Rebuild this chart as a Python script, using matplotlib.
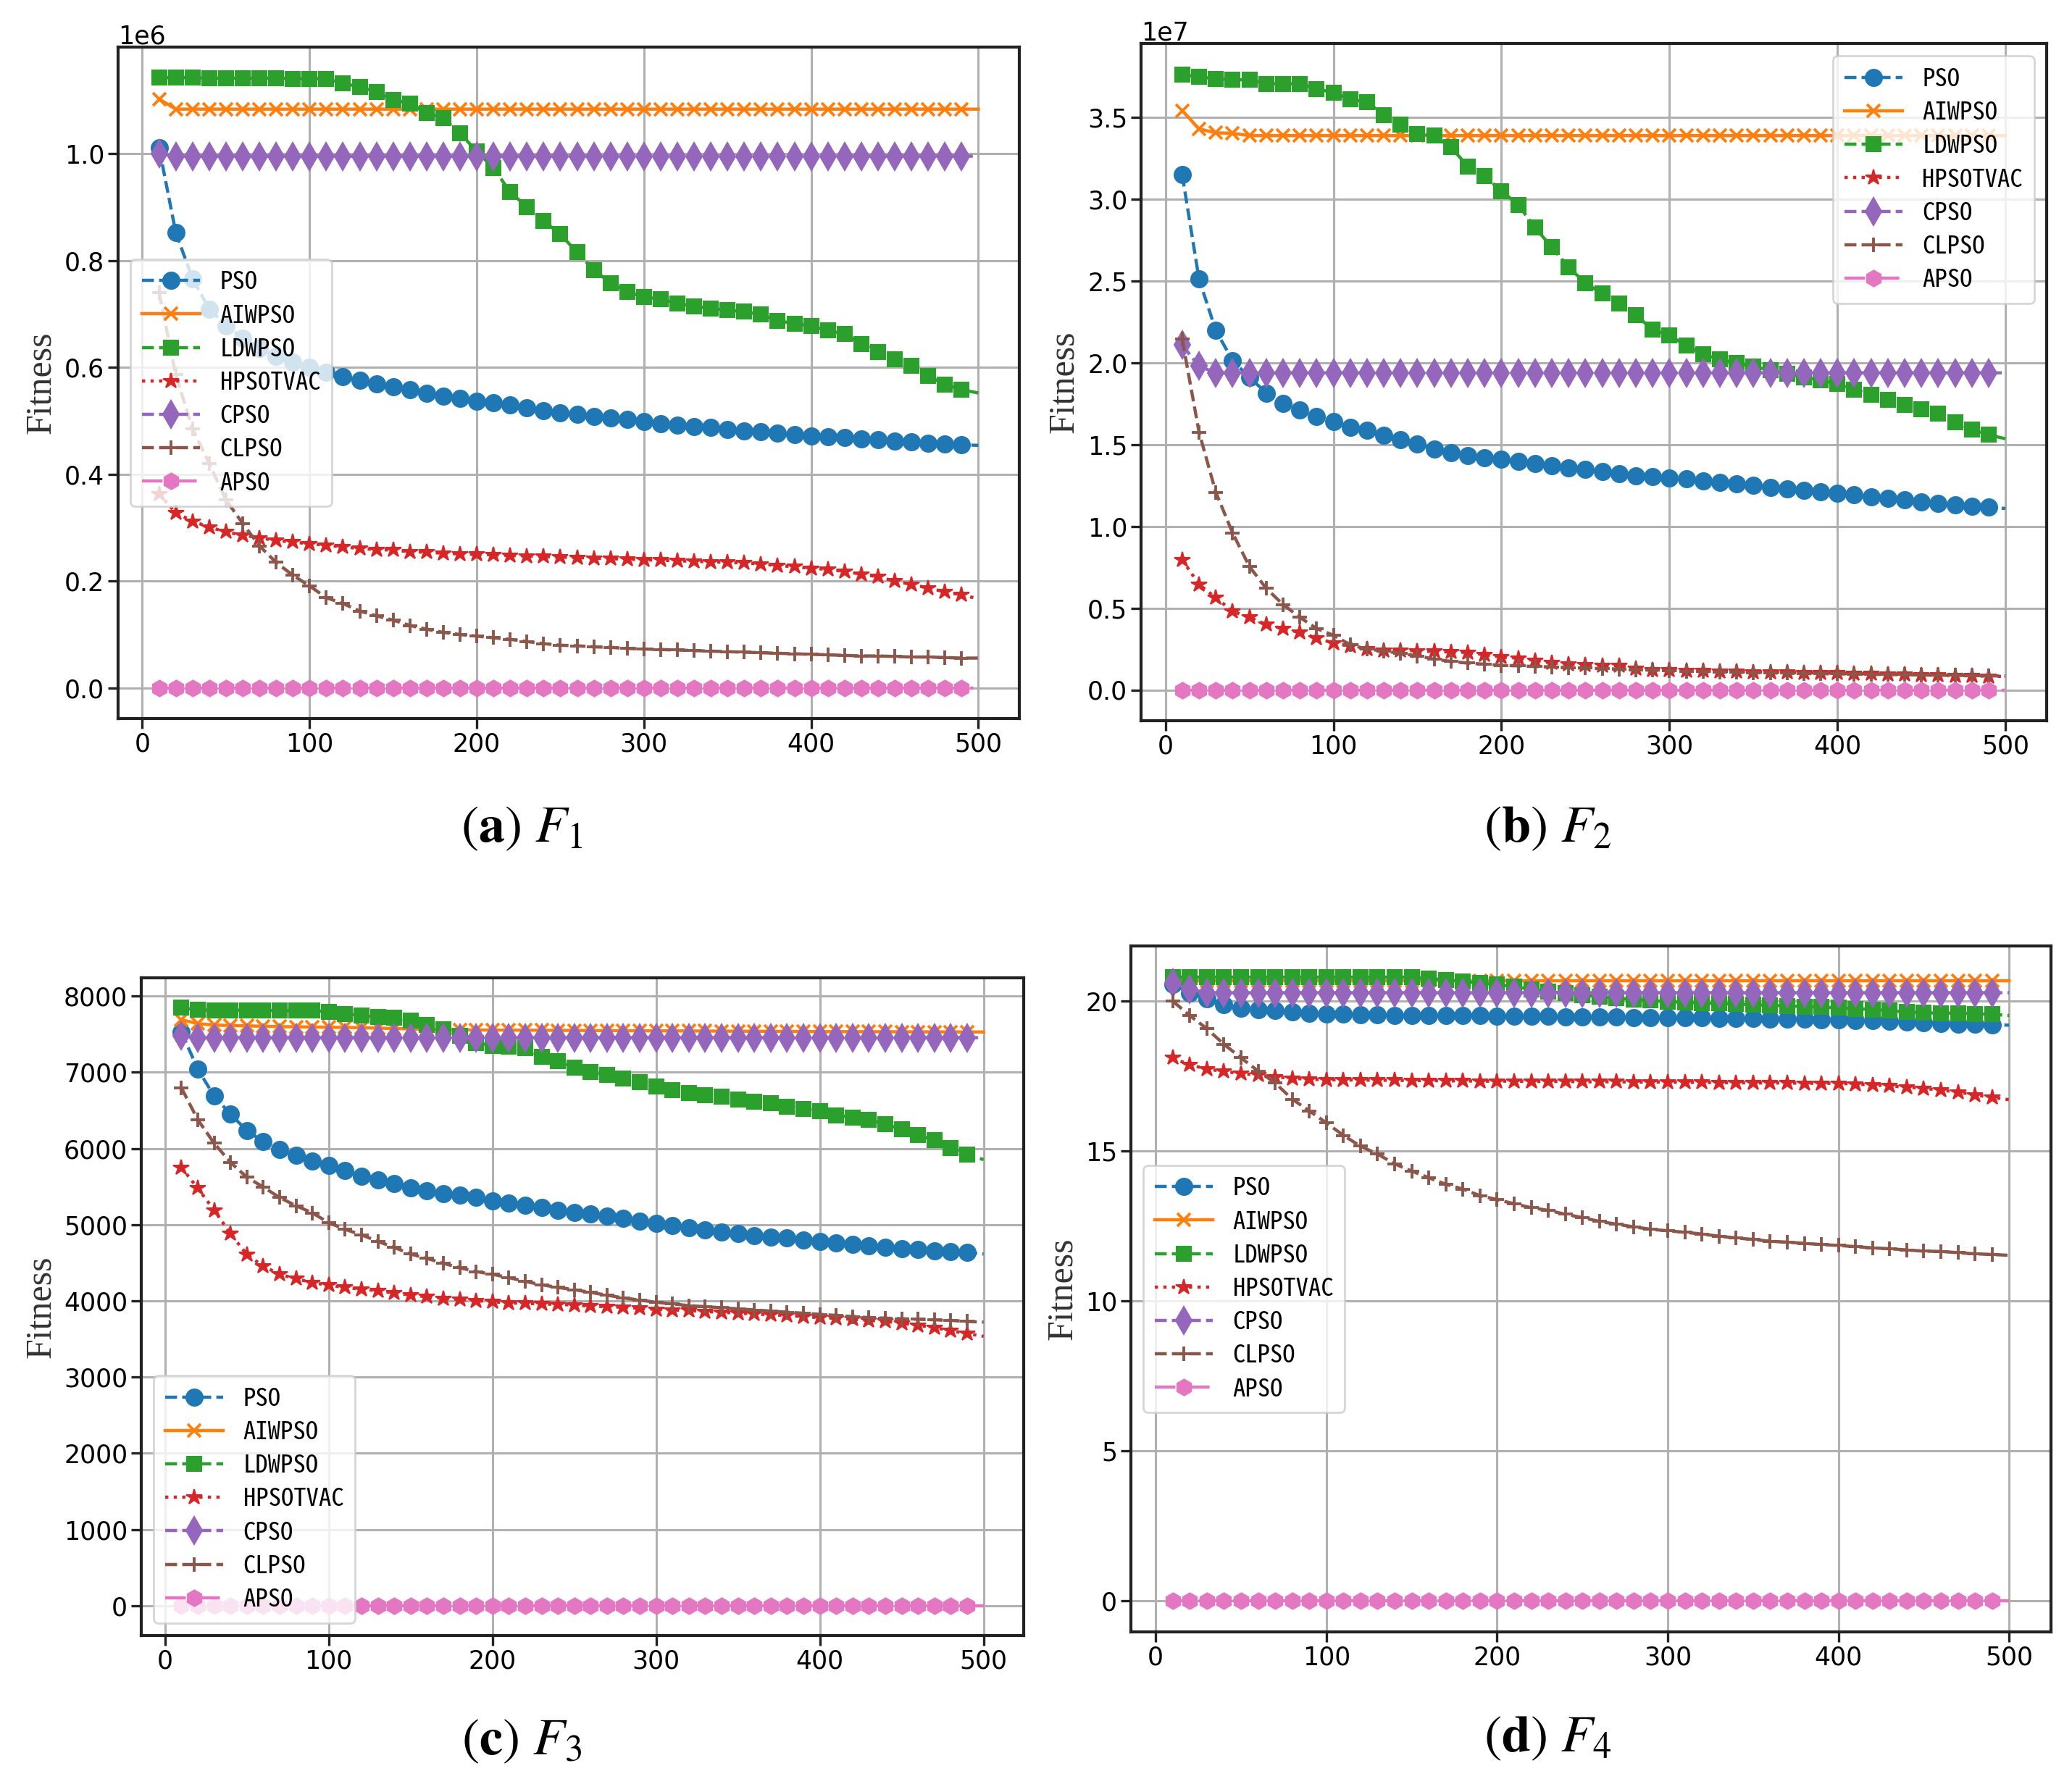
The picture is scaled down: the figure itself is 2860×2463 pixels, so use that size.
import numpy as np
import matplotlib
matplotlib.use("Agg")
import matplotlib.pyplot as plt

plt.rcParams['mathtext.fontset'] = 'stix'

# ---------------- data ----------------
iterations = [10, 20, 30, 40, 50, 60, 70, 80, 90, 100,
              110, 120, 130, 140, 150, 160, 170, 180, 190, 200,
              210, 220, 230, 240, 250, 260, 270, 280, 290, 300,
              310, 320, 330, 340, 350, 360, 370, 380, 390, 400,
              410, 420, 430, 440, 450, 460, 470, 480, 490, 500]

algorithms = ["PSO", "AIWPSO", "LDWPSO", "HPSOTVAC", "CPSO", "CLPSO", "APSO"]

# F1 (x 1e6)
f1_pso = [1.011, 0.852, 0.766, 0.709, 0.678, 0.655, 0.636, 0.620, 0.610, 0.600,
          0.591, 0.583, 0.576, 0.569, 0.563, 0.558, 0.552, 0.546, 0.542, 0.537,
          0.534, 0.529, 0.524, 0.519, 0.515, 0.512, 0.508, 0.505, 0.503, 0.499,
          0.495, 0.492, 0.489, 0.487, 0.484, 0.481, 0.479, 0.477, 0.474, 0.472,
          0.470, 0.469, 0.466, 0.464, 0.462, 0.460, 0.458, 0.457, 0.455, 0.454]
f1_aiwpso = [1.102, 1.083, 1.083, 1.083, 1.083, 1.083, 1.083, 1.083, 1.083, 1.083,
             1.083, 1.083, 1.083, 1.083, 1.083, 1.083, 1.083, 1.083, 1.083, 1.083,
             1.083, 1.083, 1.083, 1.083, 1.083, 1.083, 1.083, 1.083, 1.083, 1.083,
             1.083, 1.083, 1.083, 1.083, 1.083, 1.083, 1.083, 1.083, 1.083, 1.083,
             1.083, 1.083, 1.083, 1.083, 1.083, 1.083, 1.083, 1.083, 1.083, 1.083]
f1_ldwpso = [1.142, 1.142, 1.142, 1.141, 1.141, 1.141, 1.141, 1.141, 1.140, 1.140,
             1.140, 1.131, 1.125, 1.115, 1.100, 1.094, 1.076, 1.066, 1.038, 1.004,
             0.973, 0.928, 0.900, 0.874, 0.849, 0.815, 0.782, 0.758, 0.741, 0.732,
             0.727, 0.720, 0.714, 0.710, 0.707, 0.704, 0.699, 0.687, 0.682, 0.677,
             0.669, 0.662, 0.643, 0.629, 0.615, 0.603, 0.584, 0.568, 0.558, 0.552]
f1_hpsotvac = [0.363, 0.328, 0.312, 0.301, 0.292, 0.286, 0.281, 0.276, 0.273, 0.270,
               0.267, 0.264, 0.261, 0.259, 0.258, 0.255, 0.254, 0.252, 0.251, 0.250,
               0.249, 0.248, 0.247, 0.246, 0.245, 0.244, 0.243, 0.242, 0.241, 0.240,
               0.239, 0.238, 0.237, 0.236, 0.235, 0.234, 0.232, 0.229, 0.227, 0.224,
               0.222, 0.218, 0.213, 0.208, 0.200, 0.194, 0.187, 0.180, 0.174, 0.167]
f1_cpso = [1.000, 0.995, 0.995, 0.995, 0.995, 0.995, 0.995, 0.995, 0.995, 0.995,
           0.995, 0.995, 0.995, 0.995, 0.995, 0.995, 0.995, 0.995, 0.995, 0.995,
           0.995, 0.995, 0.995, 0.995, 0.995, 0.995, 0.995, 0.995, 0.995, 0.995,
           0.995, 0.995, 0.995, 0.995, 0.995, 0.995, 0.995, 0.995, 0.995, 0.995,
           0.995, 0.995, 0.995, 0.995, 0.995, 0.995, 0.995, 0.995, 0.995, 0.995]
f1_clpso = [0.740, 0.586, 0.485, 0.420, 0.352, 0.308, 0.266, 0.235, 0.211, 0.191,
            0.169, 0.158, 0.144, 0.135, 0.127, 0.117, 0.110, 0.104, 0.100, 0.097,
            0.094, 0.091, 0.087, 0.083, 0.080, 0.079, 0.077, 0.076, 0.074, 0.073,
            0.072, 0.071, 0.070, 0.069, 0.068, 0.067, 0.066, 0.065, 0.064, 0.063,
            0.062, 0.061, 0.060, 0.060, 0.059, 0.058, 0.058, 0.057, 0.056, 0.056]
f1_apso = [0.0, 0.0, 0.0, 0.0, 0.0, 0.0, 0.0, 0.0, 0.0, 0.0,
           0.0, 0.0, 0.0, 0.0, 0.0, 0.0, 0.0, 0.0, 0.0, 0.0,
           0.0, 0.0, 0.0, 0.0, 0.0, 0.0, 0.0, 0.0, 0.0, 0.0,
           0.0, 0.0, 0.0, 0.0, 0.0, 0.0, 0.0, 0.0, 0.0, 0.0,
           0.0, 0.0, 0.0, 0.0, 0.0, 0.0, 0.0, 0.0, 0.0, 0.0]

# F2 (x 1e7)
f2_pso = [3.149, 2.511, 2.197, 2.013, 1.911, 1.815, 1.750, 1.713, 1.672, 1.641,
          1.604, 1.586, 1.556, 1.528, 1.505, 1.474, 1.450, 1.433, 1.419, 1.409,
          1.395, 1.385, 1.372, 1.358, 1.348, 1.334, 1.320, 1.310, 1.303, 1.296,
          1.290, 1.279, 1.269, 1.259, 1.249, 1.238, 1.228, 1.221, 1.211, 1.201,
          1.191, 1.180, 1.170, 1.160, 1.150, 1.140, 1.129, 1.122, 1.116, 1.109]
f2_aiwpso = [3.541, 3.429, 3.405, 3.402, 3.388, 3.388, 3.388, 3.388, 3.388, 3.388,
             3.388, 3.388, 3.388, 3.388, 3.388, 3.388, 3.388, 3.388, 3.388, 3.388,
             3.388, 3.388, 3.388, 3.388, 3.388, 3.388, 3.388, 3.388, 3.388, 3.388,
             3.388, 3.388, 3.388, 3.388, 3.388, 3.388, 3.388, 3.388, 3.388, 3.388,
             3.388, 3.388, 3.388, 3.388, 3.388, 3.388, 3.388, 3.388, 3.388, 3.388]
f2_ldwpso = [3.763, 3.746, 3.736, 3.729, 3.729, 3.705, 3.705, 3.705, 3.674, 3.651,
             3.610, 3.593, 3.514, 3.456, 3.398, 3.388, 3.316, 3.200, 3.139, 3.050,
             2.965, 2.825, 2.706, 2.583, 2.487, 2.422, 2.364, 2.289, 2.204, 2.166,
             2.105, 2.050, 2.020, 1.999, 1.975, 1.955, 1.931, 1.911, 1.894, 1.870,
             1.836, 1.805, 1.771, 1.743, 1.716, 1.689, 1.638, 1.593, 1.559, 1.535]
f2_hpsotvac = [0.795, 0.645, 0.563, 0.481, 0.444, 0.399, 0.375, 0.351, 0.317, 0.287,
               0.266, 0.249, 0.242, 0.242, 0.239, 0.235, 0.232, 0.229, 0.215, 0.201,
               0.194, 0.181, 0.164, 0.157, 0.154, 0.150, 0.147, 0.130, 0.123, 0.120,
               0.118, 0.116, 0.114, 0.112, 0.110, 0.108, 0.107, 0.105, 0.104, 0.102,
               0.100, 0.098, 0.096, 0.094, 0.092, 0.090, 0.088, 0.086, 0.084, 0.082]
f2_cpso = [2.108, 1.979, 1.938, 1.938, 1.938, 1.938, 1.938, 1.938, 1.938, 1.938,
           1.938, 1.938, 1.938, 1.938, 1.938, 1.938, 1.938, 1.938, 1.938, 1.938,
           1.938, 1.938, 1.938, 1.938, 1.938, 1.938, 1.938, 1.938, 1.938, 1.938,
           1.938, 1.938, 1.938, 1.938, 1.938, 1.938, 1.938, 1.938, 1.938, 1.938,
           1.938, 1.938, 1.938, 1.938, 1.938, 1.938, 1.938, 1.938, 1.938, 1.938]
f2_clpso = [2.143, 1.576, 1.208, 0.959, 0.754, 0.621, 0.522, 0.444, 0.375, 0.334,
            0.276, 0.249, 0.239, 0.222, 0.208, 0.188, 0.174, 0.164, 0.157, 0.150,
            0.147, 0.143, 0.140, 0.136, 0.133, 0.130, 0.127, 0.123, 0.120, 0.116,
            0.114, 0.112, 0.110, 0.108, 0.106, 0.104, 0.102, 0.100, 0.099, 0.098,
            0.097, 0.095, 0.094, 0.093, 0.091, 0.090, 0.089, 0.088, 0.086, 0.085]
f2_apso = [0.0, 0.0, 0.0, 0.0, 0.0, 0.0, 0.0, 0.0, 0.0, 0.0,
           0.0, 0.0, 0.0, 0.0, 0.0, 0.0, 0.0, 0.0, 0.0, 0.0,
           0.0, 0.0, 0.0, 0.0, 0.0, 0.0, 0.0, 0.0, 0.0, 0.0,
           0.0, 0.0, 0.0, 0.0, 0.0, 0.0, 0.0, 0.0, 0.0, 0.0,
           0.0, 0.0, 0.0, 0.0, 0.0, 0.0, 0.0, 0.0, 0.0, 0.0]

# F3
f3_pso = [7531, 7042, 6689, 6451, 6235, 6091, 5983, 5911, 5839, 5782,
          5710, 5638, 5587, 5544, 5486, 5443, 5407, 5386, 5357, 5314,
          5285, 5256, 5227, 5191, 5162, 5141, 5112, 5083, 5047, 5018,
          4990, 4961, 4932, 4903, 4882, 4860, 4838, 4824, 4802, 4781,
          4759, 4738, 4723, 4702, 4687, 4673, 4658, 4644, 4637, 4615]
f3_aiwpso = [7690, 7640, 7620, 7615, 7610, 7605, 7600, 7598, 7595, 7592,
             7590, 7585, 7580, 7575, 7570, 7565, 7560, 7558, 7556, 7555,
             7554, 7553, 7552, 7551, 7550, 7549, 7548, 7547, 7546, 7545,
             7544, 7543, 7542, 7541, 7540, 7539, 7538, 7537, 7536, 7535,
             7534, 7534, 7533, 7533, 7532, 7532, 7531, 7531, 7530, 7530]
f3_ldwpso = [7848, 7819, 7817, 7815, 7815, 7813, 7812, 7811, 7810, 7798,
             7769, 7747, 7726, 7718, 7675, 7618, 7567, 7481, 7387, 7351,
             7337, 7315, 7207, 7150, 7063, 7006, 6970, 6919, 6869, 6811,
             6768, 6725, 6703, 6682, 6646, 6610, 6595, 6552, 6523, 6487,
             6437, 6408, 6379, 6322, 6250, 6178, 6106, 6005, 5918, 5854]
f3_hpsotvac = [5753, 5479, 5191, 4882, 4608, 4457, 4349, 4291, 4241, 4205,
               4176, 4154, 4133, 4104, 4075, 4054, 4032, 4018, 4003, 3989,
               3974, 3967, 3960, 3953, 3946, 3931, 3924, 3917, 3902, 3888,
               3881, 3874, 3859, 3852, 3838, 3830, 3816, 3809, 3794, 3780,
               3773, 3758, 3744, 3730, 3708, 3679, 3650, 3607, 3571, 3535]
f3_cpso = [7480, 7455, 7455, 7455, 7455, 7455, 7455, 7455, 7455, 7455,
           7455, 7455, 7455, 7455, 7455, 7455, 7455, 7455, 7455, 7455,
           7455, 7455, 7455, 7455, 7455, 7455, 7455, 7455, 7455, 7455,
           7455, 7455, 7455, 7455, 7455, 7455, 7455, 7455, 7455, 7455,
           7455, 7455, 7455, 7455, 7455, 7455, 7455, 7455, 7455, 7455]
f3_clpso = [6797, 6379, 6070, 5818, 5623, 5494, 5357, 5249, 5155, 5026,
            4939, 4867, 4781, 4702, 4615, 4558, 4493, 4435, 4385, 4349,
            4306, 4255, 4212, 4176, 4147, 4111, 4075, 4039, 4010, 3982,
            3960, 3938, 3924, 3910, 3895, 3881, 3866, 3852, 3838, 3823,
            3809, 3794, 3780, 3773, 3766, 3758, 3751, 3744, 3730, 3722]
f3_apso = [0, 0, 0, 0, 0, 0, 0, 0, 0, 0,
           0, 0, 0, 0, 0, 0, 0, 0, 0, 0,
           0, 0, 0, 0, 0, 0, 0, 0, 0, 0,
           0, 0, 0, 0, 0, 0, 0, 0, 0, 0,
           0, 0, 0, 0, 0, 0, 0, 0, 0, 0]

# F4
f4_pso = [20.55, 20.28, 20.08, 19.88, 19.76, 19.72, 19.68, 19.64, 19.60, 19.57,
          19.56, 19.55, 19.54, 19.53, 19.53, 19.52, 19.52, 19.51, 19.51, 19.50,
          19.50, 19.49, 19.49, 19.48, 19.48, 19.47, 19.47, 19.46, 19.46, 19.45,
          19.44, 19.44, 19.43, 19.43, 19.42, 19.41, 19.40, 19.39, 19.38, 19.37,
          19.36, 19.34, 19.32, 19.30, 19.29, 19.26, 19.24, 19.22, 19.20, 19.20]
f4_aiwpso = [20.75, 20.68, 20.68, 20.68, 20.68, 20.68, 20.68, 20.68, 20.68, 20.68,
             20.68, 20.68, 20.68, 20.68, 20.68, 20.68, 20.68, 20.68, 20.68, 20.68,
             20.68, 20.68, 20.68, 20.68, 20.68, 20.68, 20.68, 20.68, 20.68, 20.68,
             20.68, 20.68, 20.68, 20.68, 20.68, 20.68, 20.68, 20.68, 20.68, 20.68,
             20.68, 20.68, 20.68, 20.68, 20.68, 20.68, 20.68, 20.68, 20.68, 20.68]
f4_ldwpso = [20.80, 20.80, 20.80, 20.80, 20.80, 20.80, 20.80, 20.80, 20.80, 20.80,
             20.80, 20.80, 20.80, 20.80, 20.80, 20.76, 20.71, 20.66, 20.60, 20.55,
             20.48, 20.40, 20.32, 20.26, 20.20, 20.14, 20.10, 20.06, 20.02, 19.98,
             19.96, 19.94, 19.92, 19.90, 19.88, 19.86, 19.84, 19.82, 19.80, 19.78,
             19.75, 19.72, 19.68, 19.64, 19.61, 19.60, 19.60, 19.58, 19.56, 19.52]
f4_hpsotvac = [18.11, 17.87, 17.74, 17.65, 17.59, 17.53, 17.47, 17.43, 17.39, 17.38,
               17.37, 17.37, 17.36, 17.36, 17.35, 17.35, 17.34, 17.34, 17.33, 17.33,
               17.33, 17.32, 17.32, 17.32, 17.31, 17.31, 17.31, 17.30, 17.30, 17.30,
               17.29, 17.29, 17.28, 17.28, 17.27, 17.27, 17.27, 17.26, 17.26, 17.26,
               17.23, 17.21, 17.17, 17.13, 17.09, 17.03, 16.97, 16.87, 16.79, 16.71]
f4_cpso = [20.60, 20.40, 20.28, 20.28, 20.28, 20.28, 20.28, 20.28, 20.28, 20.28,
           20.28, 20.28, 20.28, 20.28, 20.28, 20.28, 20.28, 20.28, 20.28, 20.28,
           20.28, 20.28, 20.28, 20.28, 20.28, 20.28, 20.28, 20.28, 20.28, 20.28,
           20.28, 20.28, 20.28, 20.28, 20.28, 20.28, 20.28, 20.28, 20.28, 20.28,
           20.28, 20.28, 20.28, 20.28, 20.28, 20.28, 20.28, 20.28, 20.28, 20.28]
f4_clpso = [20.00, 19.52, 19.08, 18.56, 18.11, 17.67, 17.27, 16.73, 16.34, 15.94,
            15.52, 15.16, 14.90, 14.57, 14.33, 14.11, 13.89, 13.73, 13.51, 13.38,
            13.24, 13.11, 13.02, 12.89, 12.78, 12.65, 12.56, 12.47, 12.39, 12.34,
            12.29, 12.23, 12.16, 12.10, 12.05, 11.99, 11.96, 11.92, 11.88, 11.85,
            11.81, 11.77, 11.74, 11.70, 11.66, 11.65, 11.61, 11.57, 11.55, 11.52]
f4_apso = [0.0, 0.0, 0.0, 0.0, 0.0, 0.0, 0.0, 0.0, 0.0, 0.0,
           0.0, 0.0, 0.0, 0.0, 0.0, 0.0, 0.0, 0.0, 0.0, 0.0,
           0.0, 0.0, 0.0, 0.0, 0.0, 0.0, 0.0, 0.0, 0.0, 0.0,
           0.0, 0.0, 0.0, 0.0, 0.0, 0.0, 0.0, 0.0, 0.0, 0.0,
           0.0, 0.0, 0.0, 0.0, 0.0, 0.0, 0.0, 0.0, 0.0, 0.0]

y_scales = [1e6, 1e7, 1, 1]
captions = ["a", "b", "c", "d"]
func_names = ["F_1", "F_2", "F_3", "F_4"]
legend_locs = ["center left", "upper right", "lower left", "center left"]

panels = [
    [f1_pso, f1_aiwpso, f1_ldwpso, f1_hpsotvac, f1_cpso, f1_clpso, f1_apso],
    [f2_pso, f2_aiwpso, f2_ldwpso, f2_hpsotvac, f2_cpso, f2_clpso, f2_apso],
    [f3_pso, f3_aiwpso, f3_ldwpso, f3_hpsotvac, f3_cpso, f3_clpso, f3_apso],
    [f4_pso, f4_aiwpso, f4_ldwpso, f4_hpsotvac, f4_cpso, f4_clpso, f4_apso],
]

# ---------------- style ----------------
colors = ["#1f77b4", "#ff7f0e", "#2ca02c", "#d62728", "#9467bd", "#8c564b", "#e377c2"]
markers = ["o", "x", "s", "*", "d", "+", "h"]
msizes = [16.5, 13, 15, 16, 19, 14, 16]
mews = [1.5, 2.8, 1.5, 1.5, 1.5, 2.8, 1.5]
linestyles = ["--", "-", "--", ":", "--", "--", "-."]

W, H = 2860, 2463
DPI = 100
fig = plt.figure(figsize=(W / DPI, H / DPI), dpi=DPI)

axes_px = [(163, 65, 1407, 992), (1575, 60, 2825, 995),
           (195, 1350, 1413, 2258), (1561, 1306, 2831, 2253)]
caption_px = [(720, 1146), (2136, 1146), (720, 2406), (2136, 2402)]

TICK_FS = 25
LEG_FS = 25
leg_family = ["Noto Sans Mono CJK SC", "Noto Sans CJK SC", "DejaVu Sans"]

for k in range(4):
    l, t, r, b = axes_px[k]
    ax = fig.add_axes([l / W, 1 - b / H, (r - l) / W, (b - t) / H])
    x = np.array(iterations)
    for i, name in enumerate(algorithms):
        y = np.array(panels[k][i]) * y_scales[k]
        ax.plot(x, y, color=colors[i], marker=markers[i], linestyle=linestyles[i],
                linewidth=3.2, markersize=msizes[i], markeredgewidth=mews[i],
                markevery=slice(0, len(x) - 1), label=name)
    ax.grid(True, color="#b0b0b0", linewidth=2.2)
    ax.set_axisbelow(True)
    for sp in ax.spines.values():
        sp.set_linewidth(3.0)
        sp.set_color("#222222")
    ax.tick_params(labelsize=TICK_FS, length=10, width=2.4, color="#222222")
    ax.yaxis.get_offset_text().set_fontsize(TICK_FS)
    ax.set_xticks([0, 100, 200, 300, 400, 500])
    ax.set_ylabel("Fitness", fontsize=36, family="Liberation Serif", color="#333333",
                  labelpad=6)
    leg = ax.legend(loc=legend_locs[k],
                    prop={"family": leg_family, "size": LEG_FS},
                    handlelength=2.3, borderpad=0.45, labelspacing=0.38,
                    framealpha=0.8, edgecolor="#cccccc")
    leg.get_frame().set_linewidth(2.0)
    cx, cy = caption_px[k]
    fig.text(cx / W, 1 - cy / H,
             "(" + r"$\mathbf{" + captions[k] + r"}$" + ") " + r"$" + func_names[k] + r"$",
             ha="center", va="center", fontsize=52, family="STIXGeneral")

fig.savefig("out.png", dpi=DPI)
